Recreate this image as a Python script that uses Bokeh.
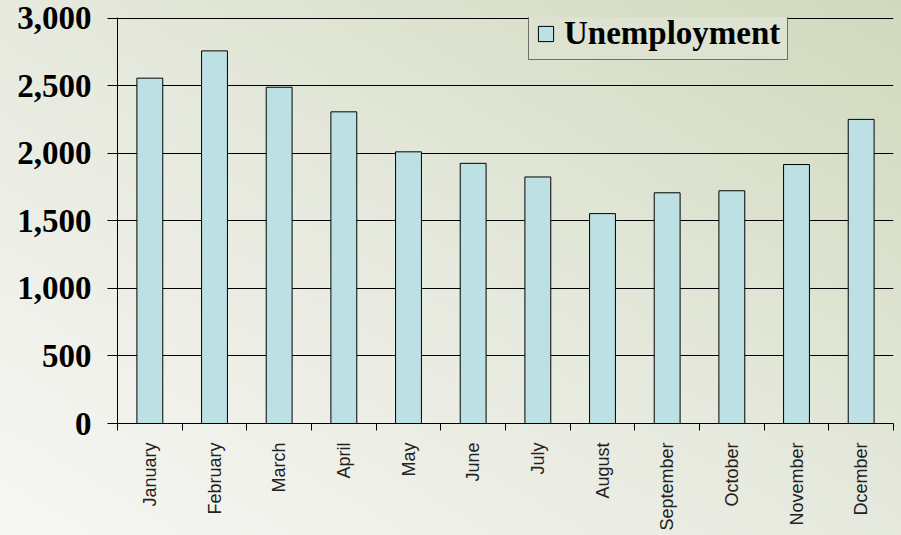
import math
from bokeh.plotting import figure
from bokeh.models import (ColumnDataSource, Range1d, FixedTicker, NumeralTickFormatter,
                          Legend, LegendItem)
from bokeh.embed import file_html
from bokeh.resources import INLINE

months = ["January", "February", "March", "April", "May", "June", "July",
          "August", "September", "October", "November", "Dcember"]
unemployment = [2555, 2757, 2488, 2306, 2010, 1925, 1824, 1553, 1707, 1722, 1916, 2250]
y_ticks = [0, 500, 1000, 1500, 2000, 2500, 3000]
series_name = "Unemployment"

centers = [i + 0.5 for i in range(len(months))]
bounds = list(range(len(months) + 1))

src = ColumnDataSource(dict(x=centers, top=unemployment, month=months))

p = figure(width=901, height=535, output_backend="svg", toolbar_location=None,
           x_range=Range1d(0, len(months)), y_range=Range1d(0, 3004),
           min_border_left=117, min_border_right=8, min_border_top=17,
           min_border_bottom=112)

p.styles = {"background": "linear-gradient(to bottom left, #d0d9bd 0%, #e6e9dd 50%, #f7f7f4 100%)"}
p.border_fill_color = None
p.background_fill_color = None
p.outline_line_color = None

r = p.vbar(x="x", top="top", width=0.4, bottom=0, source=src,
           fill_color="#bde0e4", line_color="black", line_width=1)

# y axis
ya = p.yaxis[0]
ya.ticker = FixedTicker(ticks=y_ticks)
ya.formatter = NumeralTickFormatter(format="0,0")
ya.major_label_text_font = "Liberation Serif"
ya.major_label_text_font_style = "bold"
ya.major_label_text_font_size = "33px"
ya.major_label_text_color = "black"
ya.major_label_standoff = 16
ya.major_tick_out = 10
ya.major_tick_in = 0
ya.major_tick_line_color = "black"
ya.minor_tick_line_color = None
ya.axis_line_color = "black"

# x axis
xa = p.xaxis[0]
xa.ticker = FixedTicker(ticks=centers, minor_ticks=bounds)
xa.major_label_overrides = {c: m for c, m in zip(centers, months)}
xa.major_label_orientation = math.pi / 2
xa.major_label_text_font = "Liberation Sans"
xa.major_label_text_font_size = "18px"
xa.major_label_text_color = "#222222"
xa.major_label_standoff = 12
xa.major_tick_out = 0
xa.major_tick_in = 0
xa.major_tick_line_color = None
xa.minor_tick_out = 7
xa.minor_tick_in = 0
xa.minor_tick_line_color = "black"
xa.axis_line_color = "black"

p.xgrid.grid_line_color = None
p.ygrid.ticker = FixedTicker(ticks=y_ticks)
p.ygrid.grid_line_color = "black"
p.ygrid.grid_line_width = 1

legend = Legend(items=[LegendItem(label=series_name, renderers=[r])],
                location=(411, 363))
legend.label_text_font = "Liberation Serif"
legend.label_text_font_style = "bold"
legend.label_text_font_size = "33px"
legend.label_text_color = "black"
legend.glyph_width = 19
legend.glyph_height = 19
legend.label_standoff = 9
legend.padding = 7
legend.spacing = 0
legend.margin = 0
legend.border_line_color = "black"
legend.border_line_width = 1
legend.background_fill_color = "#dde3d0"
legend.background_fill_alpha = 1.0
p.add_layout(legend, "center")

open("out.html", "w").write(file_html(p, INLINE))
